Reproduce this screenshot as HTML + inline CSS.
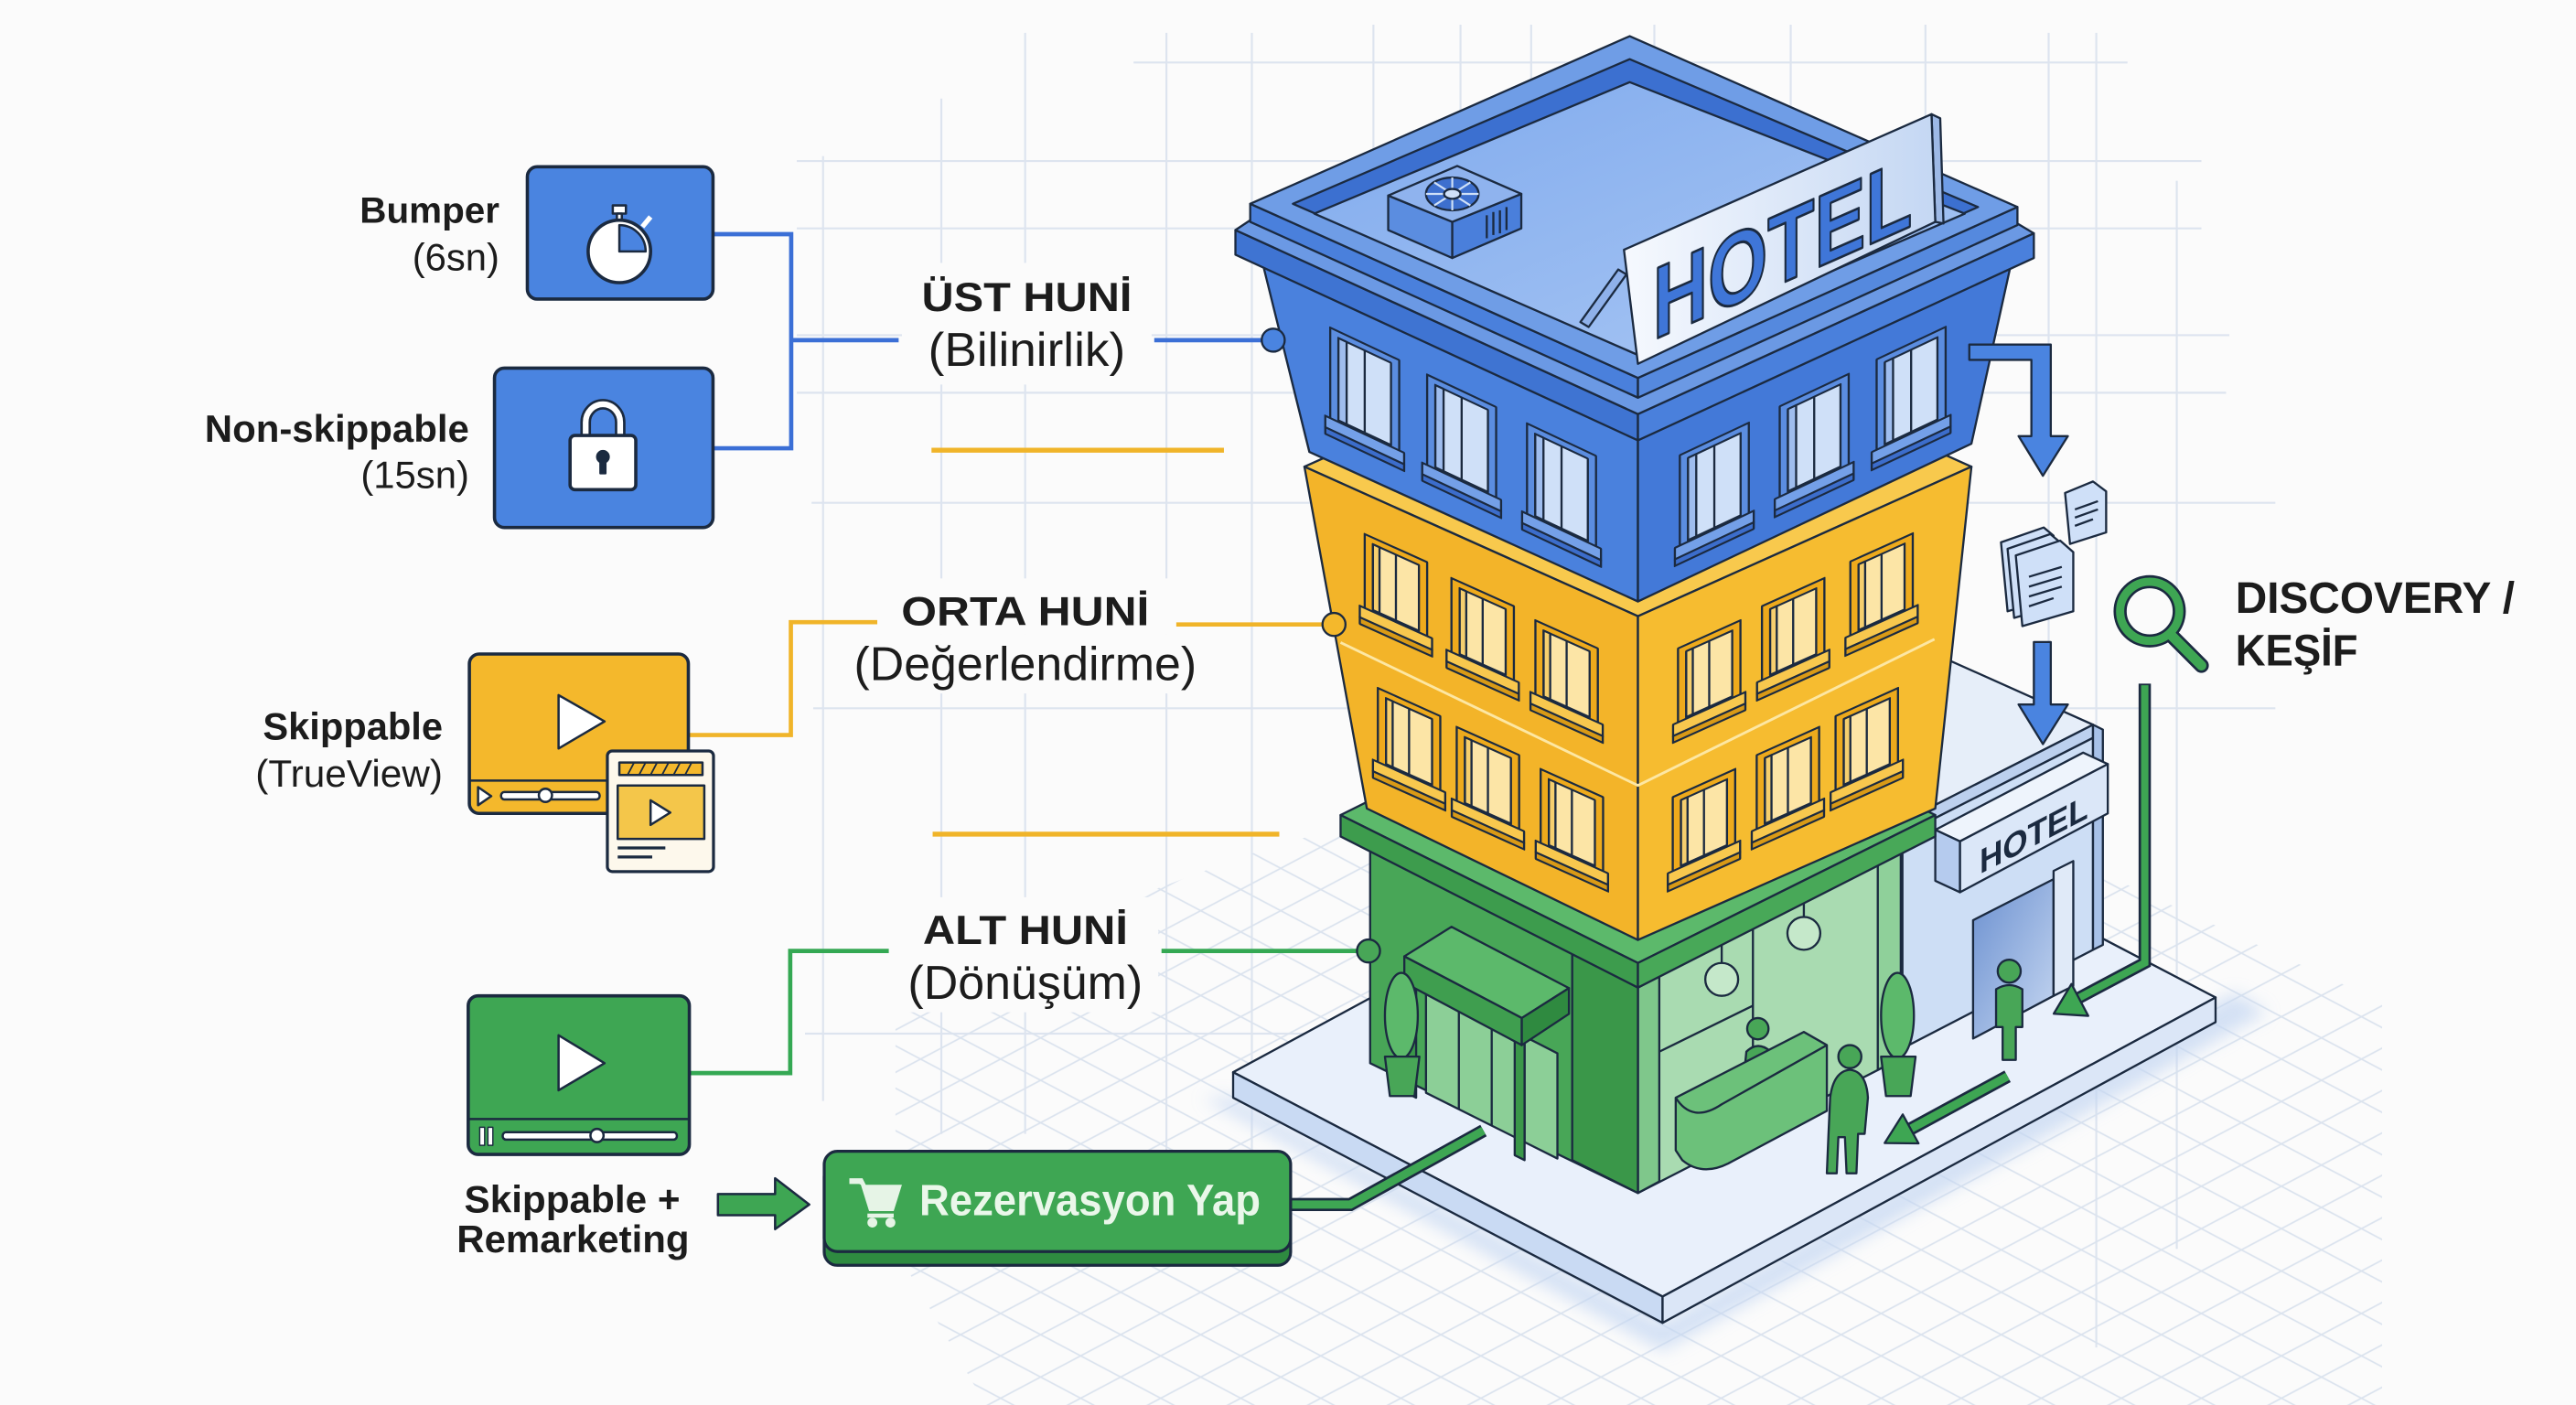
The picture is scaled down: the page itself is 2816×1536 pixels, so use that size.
<!DOCTYPE html>
<html><head><meta charset="utf-8">
<style>
html,body{margin:0;padding:0;background:#fbfbfb;}
svg{display:block;}
text{font-family:"Liberation Sans",Arial,sans-serif;}
</style></head><body>
<svg width="2816" height="1536" viewBox="0 0 1568 855" preserveAspectRatio="none" xmlns="http://www.w3.org/2000/svg">
<defs>
 <clipPath id="dg"><polygon points="545,600 760,520 1060,430 1450,610 1450,855 600,855 545,760"/></clipPath>
 <pattern id="pa" width="1000" height="22.8" patternUnits="userSpaceOnUse" patternTransform="rotate(27.9)"><line x1="0" y1="11" x2="1000" y2="11" stroke="#dbe3ee" stroke-width="1"/></pattern>
 <pattern id="pb" width="1000" height="22.8" patternUnits="userSpaceOnUse" patternTransform="rotate(-27.9)"><line x1="0" y1="11" x2="1000" y2="11" stroke="#dbe3ee" stroke-width="1"/></pattern>
 <linearGradient id="signG" x1="0" y1="0" x2="1" y2="0"><stop offset="0" stop-color="#f6f9fe"/><stop offset="1" stop-color="#c4d7f3"/></linearGradient>
 <linearGradient id="roofG" x1="0" y1="0" x2="1" y2="1"><stop offset="0" stop-color="#80aaed"/><stop offset="1" stop-color="#a9c7f4"/></linearGradient>
 <linearGradient id="doorG" x1="0" y1="0" x2="1" y2="1"><stop offset="0" stop-color="#6b90d0"/><stop offset="1" stop-color="#c6d7f1"/></linearGradient>
 <filter id="blur" x="-20%" y="-20%" width="140%" height="140%"><feGaussianBlur stdDeviation="5"/></filter>
 <g id="wb">
  <rect x="0" y="0" width="42" height="58" fill="#5b8de0"/>
  <rect x="5" y="4" width="32" height="50" fill="#cfe0f8"/>
  <rect x="5" y="4" width="5" height="50" fill="#9fbdee"/>
  <line x1="21" y1="4" x2="21" y2="54"/>
  <rect x="-3" y="55" width="48" height="7" fill="#74a0e8"/>
  <rect x="-3" y="62" width="48" height="4" fill="#3c6dcb"/>
 </g>
 <g id="wy">
  <rect x="0" y="0" width="38" height="48" fill="#eeaa1c"/>
  <rect x="5" y="4" width="28" height="40" fill="#fce5a6"/>
  <rect x="5" y="4" width="4" height="40" fill="#f6cf6e"/>
  <line x1="19" y1="4" x2="19" y2="44"/>
  <rect x="-3" y="45" width="44" height="7" fill="#f8c84e"/>
  <rect x="-3" y="52" width="44" height="4" fill="#d99a16"/>
 </g>
</defs>

<rect x="0" y="0" width="1568" height="855" fill="#fbfbfb"/>

<!-- straight grid -->
<g stroke="#dde4ef" stroke-width="1.2" fill="none">
 <line x1="501" y1="95" x2="501" y2="670"/>
 <line x1="573" y1="60" x2="573" y2="690"/>
 <line x1="624" y1="20" x2="624" y2="690"/>
 <line x1="710" y1="20" x2="710" y2="700"/>
 <line x1="762" y1="20" x2="762" y2="700"/>
 <line x1="836" y1="15" x2="836" y2="500"/>
 <line x1="889" y1="15" x2="889" y2="500"/>
 <line x1="932" y1="15" x2="932" y2="500"/>
 <line x1="1007" y1="15" x2="1007" y2="400"/>
 <line x1="1090" y1="15" x2="1090" y2="400"/>
 <line x1="1172" y1="15" x2="1172" y2="400"/>
 <line x1="1247" y1="20" x2="1247" y2="460"/>
 <line x1="1276" y1="20" x2="1276" y2="820"/>
 <line x1="1325" y1="110" x2="1325" y2="760"/>
 <line x1="690" y1="38" x2="1295" y2="38"/>
 <line x1="485" y1="98" x2="1340" y2="98"/>
 <line x1="485" y1="139" x2="1340" y2="139"/>
 <line x1="485" y1="204" x2="1357" y2="204"/>
 <line x1="485" y1="239" x2="1355" y2="239"/>
 <line x1="494" y1="306" x2="1385" y2="306"/>
 <line x1="495" y1="431" x2="1385" y2="431"/>
 <line x1="490" y1="629" x2="1300" y2="629"/>
</g>
<!-- diagonal grid -->
<g clip-path="url(#dg)">
 <rect x="500" y="400" width="1000" height="455" fill="url(#pa)"/>
 <rect x="500" y="400" width="1000" height="455" fill="url(#pb)"/>
</g>

<g stroke="#1b2a40" stroke-width="1.3" stroke-linejoin="round">
<!-- platform -->
<polygon points="732,668 1012,822 1380,616 1360,604 1012,805 750.6,668" fill="#c3d6f2" opacity="0.7" stroke="none" filter="url(#blur)"/>
<polygon points="750.6,652.5 1087,470.5 1348.6,607 1012,789" fill="#e9f0fb"/>
<polygon points="750.6,652.5 1012,789 1012,805 750.6,668" fill="#c9daf3"/>
<polygon points="1012,789 1348.6,607 1348.6,622 1012,805" fill="#dbe6f7"/>

<!-- annex -->
<polygon points="1160,390 1274,441 1158,500" fill="#e6eef9"/>
<polygon points="1274,441 1158,500 1158,508 1274,449" fill="#bcd0ee"/>
<polygon points="1158,508 1274,449 1274,578 1158,638" fill="#cddef5"/>
<polygon points="1274,441 1280,444 1280,575 1274,578" fill="#a7c1e8"/>
<polygon points="1201,560 1250,535 1250,606 1201,632" fill="url(#doorG)"/>
<polygon points="1250,530 1262,524 1262,600 1250,606" fill="#e0eaf8"/>
<polygon points="1178,505 1268,458 1283,465 1193,512" fill="#eef4fc"/>
<polygon points="1193,512 1283,465 1283,495 1193,543" fill="#dbe7f8"/>
<polygon points="1178,505 1193,512 1193,543 1178,536" fill="#b5cbee"/>
<text transform="translate(1205,532) skewY(-27.5)" font-size="21" font-weight="700" fill="#1b2a40" stroke="none" textLength="66" lengthAdjust="spacingAndGlyphs">HOTEL</text>

<!-- green block -->
<polygon points="834,509 997,601 997,726 834,647" fill="#48a657"/>
<polygon points="997,601 1157,509 1157,644 997,726" fill="#a9dbb1"/>
<polygon points="997,601 1010,594 1010,719 997,726" fill="#7fc78b"/>
<polygon points="1143,517 1157,509 1157,644 1143,651" fill="#8fd09a"/>
<line x1="1067" y1="561" x2="1067" y2="690"/>
<line x1="1010" y1="640" x2="1067" y2="612"/>
<polygon points="957,579 997,601 997,726 957,706" fill="#3a9749"/>
<polygon points="868,600 948,641 948,705 868,665" fill="#8ccf97"/>
<line x1="888" y1="610" x2="888" y2="675"/>
<line x1="908" y1="620" x2="908" y2="685"/>
<line x1="928" y1="631" x2="928" y2="695"/>
<polygon points="856,598 862,601 862,668 856,665" fill="#3a9749"/>
<polygon points="922,632 928,635 928,706 922,703" fill="#3a9749"/>
<polygon points="854.8,582 883.5,564 955,601.3 926.3,619.5" fill="#5cb96b"/>
<polygon points="854.8,582 926.3,619.5 926.3,636 854.8,598" fill="#3f9e4f"/>
<polygon points="926.3,619.5 955,601.3 955,617 926.3,636" fill="#2f8a40"/>
<ellipse cx="853" cy="618" rx="10" ry="26" fill="#5cb96b"/>
<polygon points="843,643 864,643 861,667 846,667" fill="#48a657"/>
<ellipse cx="1155" cy="618" rx="10" ry="26" fill="#5cb96b"/>
<polygon points="1145,643 1166,643 1163,667 1148,667" fill="#48a657"/>
<line x1="1048" y1="560" x2="1048" y2="586"/>
<circle cx="1048" cy="596" r="10" fill="#c5e8ca"/>
<line x1="1098" y1="540" x2="1098" y2="558"/>
<circle cx="1098" cy="568" r="10" fill="#c5e8ca"/>
<circle cx="1070" cy="626" r="6.5" fill="#48a657"/>
<path d="M1061,660 L1063,640 Q1070,633 1078,640 L1086,658 Z" fill="#48a657"/>
<path d="M1020,668 L1098,628 L1112,636 L1112,676 L1052,708 Q1036,716 1024,706 L1020,700 Z" fill="#6cc17a"/>
<path d="M1020,668 Q1030,684 1048,672 L1112,636" fill="none"/>
<circle cx="1126" cy="643" r="7" fill="#48a657"/>
<path d="M1114,668 Q1116,652 1126,651 Q1136,652 1137,668 L1135,690 L1131,690 L1130,714 L1124,714 L1123,692 L1119,692 L1118,714 L1112,714 L1113,690 Z" fill="#48a657"/>
<circle cx="1223" cy="591" r="7" fill="#48a657"/>
<path d="M1215,602 Q1223,597 1231,602 L1231,625 L1227,625 L1227,645 L1219,645 L1219,625 L1215,625 Z" fill="#48a657"/>
<polygon points="816,496 997,406 1178,496 997,586" fill="#5cb96b"/>
<polygon points="816,496 997,586 997,601 816,509" fill="#3d9c4d"/>
<polygon points="997,586 1178,496 1178,509 997,601" fill="#48a858"/>

<!-- yellow block -->
<polygon points="794,284 997,193 1200,284 997,375" fill="#f8c94d"/>
<polygon points="794,284 997,375 997,572 832,492" fill="#f3b429"/>
<polygon points="997,375 1200,284 1178,492 997,572" fill="#f6bc30"/>
<polyline points="816,391 997,478 1177.5,389" fill="none" stroke="#fde7a3" stroke-width="1.6"/>
<use href="#wy" transform="matrix(1,0.45,0,1,830.7,325)"/>
<use href="#wy" transform="matrix(1,0.45,0,1,883.5,351.8)"/>
<use href="#wy" transform="matrix(1,0.45,0,1,934.6,377.5)"/>
<use href="#wy" transform="matrix(1,0.45,0,1,838.7,418.7)"/>
<use href="#wy" transform="matrix(1,0.45,0,1,886.7,442.4)"/>
<use href="#wy" transform="matrix(1,0.45,0,1,937.8,468)"/>
<use href="#wy" transform="matrix(1,-0.45,0,1,1021.4,394.6)"/>
<use href="#wy" transform="matrix(1,-0.45,0,1,1072.5,368.9)"/>
<use href="#wy" transform="matrix(1,-0.45,0,1,1126.3,341.7)"/>
<use href="#wy" transform="matrix(1,-0.45,0,1,1018.2,485.1)"/>
<use href="#wy" transform="matrix(1,-0.45,0,1,1069.3,459.5)"/>
<use href="#wy" transform="matrix(1,-0.45,0,1,1117.3,435.8)"/>

<!-- blue block -->
<polygon points="769,162 997,266 997,366 797,275" fill="#4a81dd"/>
<polygon points="997,266 1224,161 1200,270 997,366" fill="#4379d8"/>
<use href="#wb" transform="matrix(1,0.47,0,1,809.7,199.4)"/>
<use href="#wb" transform="matrix(1,0.47,0,1,868.7,228)"/>
<use href="#wb" transform="matrix(1,0.47,0,1,929.5,257.7)"/>
<use href="#wb" transform="matrix(1,-0.47,0,1,1022.5,277)"/>
<use href="#wb" transform="matrix(1,-0.47,0,1,1083.3,247.3)"/>
<use href="#wb" transform="matrix(1,-0.47,0,1,1142.3,218.7)"/>
<polygon points="752,140 997,252 997,268 752,155" fill="#3f74d2"/>
<polygon points="997,252 1238,142 1238,157 997,268" fill="#4a80dc"/>
<polygon points="761,134 997,241 1228,136 1238,142 997,252 752,140" fill="#6b99e4"/>
<polygon points="761,124 997,230 997,242 761,135" fill="#4a80dc"/>
<polygon points="997,230 1228,126 1228,137 997,242" fill="#5589de"/>
<polygon points="992,22 761,124 997,230 1228,126" fill="#6f9de6"/>
<polygon points="992,36 787,124 997,216 1204,126" fill="#3c70d0"/>
<polygon points="992,50 800,130 997,216 1196,130" fill="url(#roofG)"/>
<!-- AC unit -->
<polygon points="845,119 884,135 884,157 845,140" fill="#5b8de0"/>
<polygon points="884,135 926,118 926,139 884,157" fill="#4a7fdb"/>
<polygon points="845,119 887,101 926,118 884,135" fill="#8fb3ee"/>
<ellipse cx="884" cy="118" rx="16" ry="10" fill="#3d6fce"/>
<path d="M868,118 H900 M884,108 V128 M873,111 L895,125 M895,111 L873,125" stroke="#cfe0f8" stroke-width="1.2" fill="none"/>
<ellipse cx="884" cy="118" rx="5" ry="3" fill="#cfe0f8"/>
<line x1="905" y1="131" x2="905" y2="145"/>
<line x1="909" y1="129" x2="909" y2="143"/>
<line x1="913" y1="128" x2="913" y2="142"/>
<line x1="917" y1="126" x2="917" y2="140"/>
<!-- roof sign -->
<polygon points="962,196 985,164 990,167 967,199" fill="#8fb1ea"/>
<polygon points="1175.7,69.5 1181,72 1183,136 1178,135" fill="#9db9e6"/>
<polygon points="988.5,152 1175.7,69.5 1178,135 997,221.4" fill="url(#signG)"/>
<text transform="translate(1006,207) skewY(-23.8)" font-size="62" font-weight="700" fill="#3f76d8" stroke="#1b2a40" stroke-width="1.6" textLength="158" lengthAdjust="spacingAndGlyphs">HOTEL</text>

<!-- right side flow -->
<path d="M1198.7,209.7 H1248.3 V265.4 H1258.7 L1243.5,289.5 L1228.7,265.4 H1236.5 V219 H1198.7 Z" fill="#4a84e0"/>
<path d="M1238,390.7 H1248.3 V428.7 H1258.7 L1243.5,452.8 L1228.7,428.7 H1238 Z" fill="#4a84e0"/>
<g fill="#cfe0f8">
 <path d="M1257,300 L1274,293 L1282,299 L1282,324 L1260,331 Z"/>
 <path d="M1218,330 L1244,321 L1250,326 L1250,364 L1222,372 Z"/>
 <path d="M1222,334 L1248,325 L1254,330 L1254,368 L1226,376 Z"/>
 <path d="M1227,338 L1254,329 L1262,336 L1262,372 L1231,381 Z"/>
 <line x1="1235" y1="351" x2="1255" y2="345"/>
 <line x1="1235" y1="357" x2="1255" y2="351"/>
 <line x1="1235" y1="363" x2="1255" y2="357"/>
 <line x1="1235" y1="369" x2="1250" y2="364"/>
 <line x1="1263" y1="310" x2="1277" y2="305"/>
 <line x1="1263" y1="315" x2="1277" y2="310"/>
 <line x1="1263" y1="320" x2="1274" y2="316"/>
</g>
</g>

<!-- magnifier -->
<g fill="none" stroke-linecap="round">
 <circle cx="1308.5" cy="372" r="18" stroke="#1b2a40" stroke-width="8"/>
 <line x1="1321" y1="386" x2="1340" y2="405" stroke="#1b2a40" stroke-width="9"/>
 <circle cx="1308.5" cy="372" r="18" stroke="#3ea653" stroke-width="5"/>
 <line x1="1321" y1="386" x2="1340" y2="405" stroke="#3ea653" stroke-width="6"/>
</g>
<!-- green flow lines -->
<g fill="none" stroke-linejoin="miter">
 <path d="M1305.5,416 V586 L1264,608" stroke="#1b2a40" stroke-width="7.5"/>
 <path d="M1305.5,417 V586 L1264,608" stroke="#3ea653" stroke-width="4.5"/>
 <path d="M1222,655 L1163,687" stroke="#1b2a40" stroke-width="8"/>
 <path d="M1222,655 L1163,687" stroke="#3ea653" stroke-width="5"/>
 <path d="M785.6,733 H822 L903,688" stroke="#1b2a40" stroke-width="8"/>
 <path d="M785.6,733 H822 L903,688" stroke="#3ea653" stroke-width="5"/>
</g>
<g stroke="#1b2a40" stroke-width="1.3" stroke-linejoin="round" fill="#3ea653">
 <polygon points="1250.1,616.9 1271.1,618.2 1260.9,598.8"/>
 <polygon points="1147.2,695.6 1167.8,695.8 1158.2,678.2"/>
</g>

<!-- left connectors -->
<g fill="none" stroke-width="2.6">
 <path d="M434,142.5 H481.6 V272.8 H434 M481.6,207 H547" stroke="#3b6fd6"/>
 <path d="M702.6,207 H769" stroke="#3b6fd6"/>
 <path d="M419,447.3 H481.4 V378.6 H534" stroke="#f0b429"/>
 <path d="M716,380 H805" stroke="#f0b429"/>
 <path d="M419.6,653 H481 V578.7 H541" stroke="#34a853"/>
 <path d="M707,578.7 H827" stroke="#34a853"/>
 <path d="M567,274 H745" stroke="#f0b429" stroke-width="3"/>
 <path d="M567.7,507.6 H778.7" stroke="#f0b429" stroke-width="3"/>
</g>
<g stroke="#1b2a40" stroke-width="1.3">
 <circle cx="775" cy="207" r="7" fill="#4a84e0"/>
 <circle cx="812" cy="380" r="7" fill="#f4b82c"/>
 <circle cx="833" cy="578.7" r="7" fill="#48a657"/>
</g>

<!-- label backgrounds -->
<g fill="#fbfbfb">
 <rect x="549" y="160" width="152" height="74"/>
 <rect x="536" y="352" width="178" height="34"/>
 <rect x="515" y="386" width="218" height="36"/>
 <rect x="543" y="546" width="162" height="70"/>
</g>

<!-- left panels -->
<g stroke="#1b2a40" stroke-width="2" stroke-linejoin="round">
 <rect x="321" y="101.5" width="113" height="80.5" rx="6" fill="#4a84e0"/>
 <rect x="301" y="224" width="133" height="97" rx="6" fill="#4a84e0"/>
 <rect x="285.7" y="398" width="133.3" height="97" rx="6" fill="#f4b82c"/>
 <rect x="285" y="606" width="134.6" height="96.5" rx="6" fill="#3ea653"/>
</g>
<g stroke="#1b2a40" stroke-width="1.4" stroke-linejoin="round">
 <!-- stopwatch -->
 <rect x="373" y="125" width="8" height="5" fill="#fff"/>
 <rect x="375.5" y="130" width="3" height="4" fill="#fff"/>
 <line x1="391" y1="138" x2="396" y2="132" stroke="#fff" stroke-width="3"/>
 <circle cx="377" cy="153" r="19" fill="#fff" stroke-width="2"/>
 <path d="M377,153 L377,137 A16,16 0 0 1 393,153 Z" fill="#4a84e0"/>
 <!-- lock -->
 <path d="M356.5,267 V257 A10.5,11 0 0 1 377.5,257 V267" fill="none" stroke-width="6.5"/>
 <path d="M356.5,267 V257 A10.5,11 0 0 1 377.5,257 V267" fill="none" stroke="#fff" stroke-width="3.5"/>
 <rect x="347" y="265" width="40" height="33" rx="3" fill="#fff" stroke-width="2"/>
 <circle cx="367" cy="278" r="3.5" fill="#1b2a40"/>
 <rect x="365.5" y="279" width="3" height="9" fill="#1b2a40"/>
 <!-- yellow video -->
 <polygon points="340,423 340,455.5 368,439" fill="#fff"/>
 <line x1="285.7" y1="475" x2="419" y2="475"/>
 <polygon points="291,479 291,490 299,484.5" fill="#fff"/>
 <rect x="305" y="482" width="60" height="4.5" rx="2" fill="#fff"/>
 <circle cx="332" cy="484" r="4" fill="#fff"/>
 <rect x="369.7" y="457" width="64.6" height="73.4" rx="3" fill="#fdf8ec" stroke-width="1.8"/>
 <rect x="377" y="464" width="50.6" height="7.6" fill="#f4b82c"/>
 <path d="M382,471.6 L386,464 M389,471.6 L393,464 M396,471.6 L400,464 M403,471.6 L407,464 M410,471.6 L414,464 M417,471.6 L421,464" fill="none" stroke-width="1"/>
 <rect x="376" y="478" width="52.7" height="32.5" fill="#f4c64a"/>
 <polygon points="396,487 396,502 408,494.5" fill="#fff"/>
 <line x1="376" y1="516" x2="405" y2="516" stroke-width="1.8"/>
 <line x1="376" y1="521.5" x2="397" y2="521.5" stroke-width="1.8"/>
 <!-- green video -->
 <polygon points="340,630 340,663.5 368,647" fill="#fff"/>
 <line x1="285" y1="681" x2="419.6" y2="681"/>
 <rect x="292" y="686" width="3" height="11" fill="#fff" stroke-width="0.8"/>
 <rect x="297" y="686" width="3" height="11" fill="#fff" stroke-width="0.8"/>
 <rect x="306" y="689" width="106" height="4.5" rx="2" fill="#fff"/>
 <circle cx="363.4" cy="691" r="4" fill="#fff"/>
 <!-- arrow to button -->
 <polygon points="437,726.6 471.8,726.6 471.8,717 492.6,733 471.8,748 471.8,739.5 437,739.5" fill="#3ea653"/>
 <!-- button -->
 <rect x="501.7" y="708" width="283.9" height="62" rx="8" fill="#2e8b40" stroke-width="1.8"/>
 <rect x="501.7" y="700.6" width="283.9" height="61" rx="8" fill="#3ea653" stroke-width="1.8"/>
</g>
<!-- cart -->
<g fill="#e6f4e6" stroke="none">
 <path d="M517,717 H525 L527,721 H549 L544,737 H529 L524,721 L523,720.5 H517 Z"/>
 <rect x="528" y="738.5" width="16" height="2.5"/>
 <circle cx="531" cy="744" r="3"/>
 <circle cx="542" cy="744" r="3"/>
</g>

<!-- texts -->
<g fill="#1c1c1c">
 <text x="304" y="135.5" font-size="22" font-weight="700" text-anchor="end" textLength="85" lengthAdjust="spacingAndGlyphs">Bumper</text>
 <text x="304" y="164.5" font-size="23" text-anchor="end" textLength="53" lengthAdjust="spacingAndGlyphs">(6sn)</text>
 <text x="285.6" y="269" font-size="23" font-weight="700" text-anchor="end" textLength="161" lengthAdjust="spacingAndGlyphs">Non-skippable</text>
 <text x="285.6" y="297" font-size="23" text-anchor="end" textLength="66" lengthAdjust="spacingAndGlyphs">(15sn)</text>
 <text x="269.5" y="450" font-size="23" font-weight="700" text-anchor="end" textLength="109.5" lengthAdjust="spacingAndGlyphs">Skippable</text>
 <text x="269.5" y="478.8" font-size="23" text-anchor="end" textLength="114" lengthAdjust="spacingAndGlyphs">(TrueView)</text>
 <text x="282.6" y="737.8" font-size="23" font-weight="700" textLength="131.4" lengthAdjust="spacingAndGlyphs">Skippable +</text>
 <text x="278" y="762" font-size="23" font-weight="700" textLength="141.6" lengthAdjust="spacingAndGlyphs">Remarketing</text>
 <text x="561" y="189.3" font-size="25" font-weight="700" textLength="128" lengthAdjust="spacingAndGlyphs">ÜST HUNİ</text>
 <text x="565" y="222.7" font-size="29" textLength="120" lengthAdjust="spacingAndGlyphs">(Bilinirlik)</text>
 <text x="548.6" y="380.5" font-size="25" font-weight="700" textLength="151" lengthAdjust="spacingAndGlyphs">ORTA HUNİ</text>
 <text x="519.8" y="413.9" font-size="29" textLength="208.6" lengthAdjust="spacingAndGlyphs">(Değerlendirme)</text>
 <text x="561.8" y="574.4" font-size="25" font-weight="700" textLength="124.7" lengthAdjust="spacingAndGlyphs">ALT HUNİ</text>
 <text x="552.6" y="607.8" font-size="29" textLength="143" lengthAdjust="spacingAndGlyphs">(Dönüşüm)</text>
 <text x="1360.7" y="373" font-size="27" font-weight="700" textLength="170" lengthAdjust="spacingAndGlyphs">DISCOVERY /</text>
 <text x="1360.7" y="405" font-size="27" font-weight="700" textLength="74.5" lengthAdjust="spacingAndGlyphs">KEŞİF</text>
</g>
<text x="559.6" y="739.5" font-size="27" font-weight="700" fill="#eaf7ea" textLength="207.7" lengthAdjust="spacingAndGlyphs">Rezervasyon Yap</text>
</svg>
</body></html>
